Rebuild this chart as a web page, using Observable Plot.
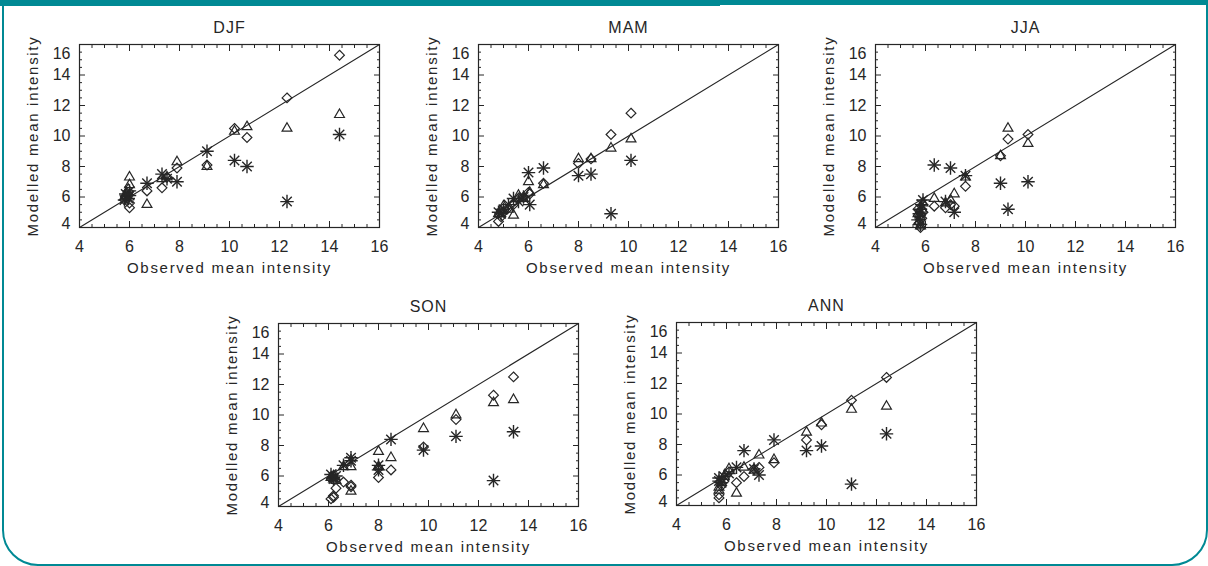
<!DOCTYPE html>
<html>
<head>
<meta charset="utf-8">
<script src="https://cdn.jsdelivr.net/npm/d3@7"></script>
<script src="https://cdn.jsdelivr.net/npm/@observablehq/plot@0.6"></script>
<style>
  html, body { margin: 0; padding: 0; background: #fff; }
  #stage { position: relative; width: 1208px; height: 566px; overflow: hidden; background: #fff; }
  #frame { position: absolute; left: 2px; top: -20px; width: 1206px; height: 586px; box-sizing: border-box;
           border: 2.5px solid #008994; border-radius: 0 0 36px 36px; }
  #barL { position: absolute; left: 0; top: 0; width: 720px; height: 6px; background: #008994; }
  #barR { position: absolute; left: 720px; top: 0; width: 488px; height: 5px; background: #008994; }
  .panel { position: absolute; }
  .panel svg { overflow: visible; }
</style>
</head>
<body>
<div id="stage">
  <div id="frame"></div>
  <div id="barL"></div>
  <div id="barR"></div>
</div>
<script>
// ---- tick labels ----
const majorTicks = [4, 6, 8, 10, 12, 14, 16];
const minorTicks = [4.5, 5, 5.5, 6.5, 7, 7.5, 8.5, 9, 9.5, 10.5, 11, 11.5, 12.5, 13, 13.5, 14.5, 15, 15.5];
const xTitle = "Observed mean intensity";
const yTitle = "Modelled mean intensity";
// 1:1 reference line
const refX = [4, 16];
const refY = [4, 16];

// ---- DJF ----
const djfObs      = [14.4, 12.3, 10.7, 10.2, 9.1, 7.9, 7.5, 7.3, 6.7, 6.0, 6.0, 5.95, 5.85, 5.8];
const djfDiamond  = [15.3, 12.5, 9.9, 10.5, 8.1, 7.9, 7.3, 6.6, 6.4, 5.3, 5.6, 6.1, 6.0, 5.8];
const djfTriangle = [11.4, 10.5, 10.6, 10.3, 8.0, 8.3, 7.3, 7.2, 5.5, 7.3, 6.8, 6.5, 6.2, 6.0];
const djfAsterisk = [10.1, 5.7, 8.0, 8.4, 9.0, 7.0, 7.2, 7.5, 6.9, 6.1, 6.4, 5.9, 6.2, 5.8];

// ---- MAM ----
const mamObs      = [10.1, 9.3, 8.5, 8.0, 6.6, 6.0, 6.05, 5.8, 5.6, 5.4, 5.2, 5.0, 4.8, 4.9];
const mamDiamond  = [11.5, 10.1, 8.5, 8.2, 6.9, 6.3, 6.2, 6.0, 5.9, 5.5, 5.3, 5.0, 4.4, 4.7];
const mamTriangle = [9.8, 9.2, 8.5, 8.5, 6.8, 7.0, 6.3, 5.9, 6.1, 4.8, 5.2, 5.4, 4.9, 5.1];
const mamAsterisk = [8.4, 4.9, 7.5, 7.4, 7.9, 7.6, 5.5, 6.0, 5.7, 5.9, 5.5, 5.2, 5.0, 4.9];

// ---- JJA ----
const jjaObs      = [10.1, 9.3, 9.0, 7.6, 7.15, 7.0, 6.8, 6.35, 5.9, 5.85, 5.8, 5.75, 5.7, 5.8];
const jjaDiamond  = [10.1, 9.8, 8.7, 6.7, 5.4, 5.5, 5.3, 5.4, 5.0, 4.6, 4.8, 4.3, 5.2, 4.0];
const jjaTriangle = [9.5, 10.5, 8.7, 7.3, 6.2, 5.8, 5.6, 5.9, 5.6, 5.2, 4.7, 4.4, 4.9, 4.1];
const jjaAsterisk = [7.0, 5.2, 6.9, 7.4, 5.0, 7.9, 5.7, 8.1, 5.8, 5.5, 5.2, 4.9, 4.5, 4.2];

// ---- SON ----
const sonObs      = [13.4, 12.6, 11.1, 9.8, 8.5, 8.0, 8.0, 6.9, 6.9, 6.6, 6.3, 6.2, 6.1, 6.2];
const sonDiamond  = [12.5, 11.3, 9.7, 7.9, 6.4, 5.9, 6.5, 5.4, 5.3, 5.6, 5.2, 4.6, 4.5, 4.7];
const sonTriangle = [11.0, 10.8, 10.0, 9.1, 7.2, 7.6, 6.6, 5.0, 6.6, 6.6, 5.7, 5.8, 5.9, 6.0];
const sonAsterisk = [8.9, 5.7, 8.6, 7.7, 8.4, 6.7, 6.4, 7.2, 7.0, 6.7, 6.0, 5.9, 6.1, 5.8];

// ---- ANN ----
const annObs      = [12.4, 11.0, 9.8, 9.2, 7.9, 7.3, 7.1, 6.7, 6.4, 6.1, 5.9, 5.8, 5.7, 5.7];
const annDiamond  = [12.4, 10.9, 9.3, 8.3, 6.8, 6.5, 6.4, 5.9, 5.5, 6.2, 5.6, 5.3, 4.7, 4.5];
const annTriangle = [10.5, 10.3, 9.4, 8.8, 7.0, 7.3, 6.3, 6.5, 4.8, 6.4, 5.9, 5.5, 5.0, 5.2];
const annAsterisk = [8.7, 5.4, 7.9, 7.6, 8.3, 6.0, 6.4, 7.6, 6.5, 6.1, 5.9, 5.5, 5.8, 5.6];

const panels = [
  {title: "DJF", obs: djfObs, d: djfDiamond, t: djfTriangle, a: djfAsterisk, left: 19, top: 0},
  {title: "MAM", obs: mamObs, d: mamDiamond, t: mamTriangle, a: mamAsterisk, left: 418, top: 0},
  {title: "JJA", obs: jjaObs, d: jjaDiamond, t: jjaTriangle, a: jjaAsterisk, left: 815, top: 0},
  {title: "SON", obs: sonObs, d: sonDiamond, t: sonTriangle, a: sonAsterisk, left: 218, top: 279},
  {title: "ANN", obs: annObs, d: annDiamond, t: annTriangle, a: annAsterisk, left: 616, top: 278}
];

const ink = "#262626";
const font = "'Liberation Sans', Arial, Helvetica, sans-serif";

function rowsOf(xs, ys) { return xs.map((x, i) => ({x, y: ys[i]})); }

function tickMarks() {
  const out = [];
  for (const a of ["bottom", "top"]) {
    out.push(Plot.axisX(majorTicks, {anchor: a, tickSize: -6, fill: "none", label: null, stroke: ink}));
    out.push(Plot.axisX(minorTicks, {anchor: a, tickSize: -3, fill: "none", label: null, stroke: ink}));
  }
  for (const a of ["left", "right"]) {
    out.push(Plot.axisY(majorTicks, {anchor: a, tickSize: -6, fill: "none", label: null, stroke: ink}));
    out.push(Plot.axisY(minorTicks, {anchor: a, tickSize: -3, fill: "none", label: null, stroke: ink}));
  }
  return out;
}

function makePanel(p) {
  const inner = majorTicks.filter(v => v !== 4 && v !== 16);
  const svg = Plot.plot({
    width: 380,
    height: 282,
    marginLeft: 60,
    marginRight: 20,
    marginTop: 44,
    marginBottom: 55,
    x: {domain: [4, 16]},
    y: {domain: [4, 16]},
    style: {fontFamily: font, fontSize: "16px", color: ink, background: "transparent", overflow: "visible"},
    marks: [
      ...tickMarks(),
      Plot.frame({stroke: ink, strokeWidth: 1.2}),
      Plot.axisX(majorTicks, {anchor: "bottom", tickSize: 0, tickPadding: 13, label: null, fill: ink, fontSize: 16}),
      Plot.axisY(inner, {anchor: "left", tickSize: 0, tickPadding: 9, label: null, fill: ink, fontSize: 16}),
      Plot.axisY([16], {anchor: "left", tickSize: 0, tickPadding: 9, label: null, fill: ink, fontSize: 16, dy: 9}),
      Plot.axisY([4], {anchor: "left", tickSize: 0, tickPadding: 9, label: null, fill: ink, fontSize: 16, dy: -4}),
      Plot.line(rowsOf(refX, refY), {x: "x", y: "y", stroke: ink, strokeWidth: 1.1}),
      Plot.dot(rowsOf(p.obs, p.d), {x: "x", y: "y", symbol: "diamond2", r: 4.4, stroke: ink, fill: "none", strokeWidth: 1.2}),
      Plot.dot(rowsOf(p.obs, p.t), {x: "x", y: "y", symbol: "triangle2", r: 4.7, stroke: ink, fill: "none", strokeWidth: 1.2}),
      Plot.dot(rowsOf(p.obs, p.a), {x: "x", y: "y", symbol: "plus", r: 4.4, stroke: ink, strokeWidth: 1.4}),
      Plot.dot(rowsOf(p.obs, p.a), {x: "x", y: "y", symbol: "times", r: 4.4, stroke: ink, strokeWidth: 1.4}),
      Plot.text([p.title], {text: d => d, frameAnchor: "top", dy: -17, fontSize: 16, fill: ink, lineAnchor: "middle", textAnchor: "middle"}),
      Plot.text([xTitle], {text: d => d, frameAnchor: "bottom", dy: 41, fontSize: 15, fill: ink, lineAnchor: "middle", textAnchor: "middle"}),
      Plot.text([yTitle], {text: d => d, frameAnchor: "left", dx: -46, rotate: -90, fontSize: 15, fill: ink, lineAnchor: "middle", textAnchor: "middle"})
    ]
  });
  d3.select(svg).selectAll("text")
    .filter(function () { return this.textContent === xTitle || this.textContent === yTitle; })
    .style("letter-spacing", "1.7px");
  d3.select(svg).selectAll("text")
    .filter(function () { return this.textContent === p.title; })
    .style("letter-spacing", "1px");
  const wrap = document.createElement("div");
  wrap.className = "panel";
  wrap.style.left = p.left + "px";
  wrap.style.top = p.top + "px";
  wrap.appendChild(svg);
  document.getElementById("stage").appendChild(wrap);
}

panels.forEach(makePanel);
</script>
</body>
</html>
